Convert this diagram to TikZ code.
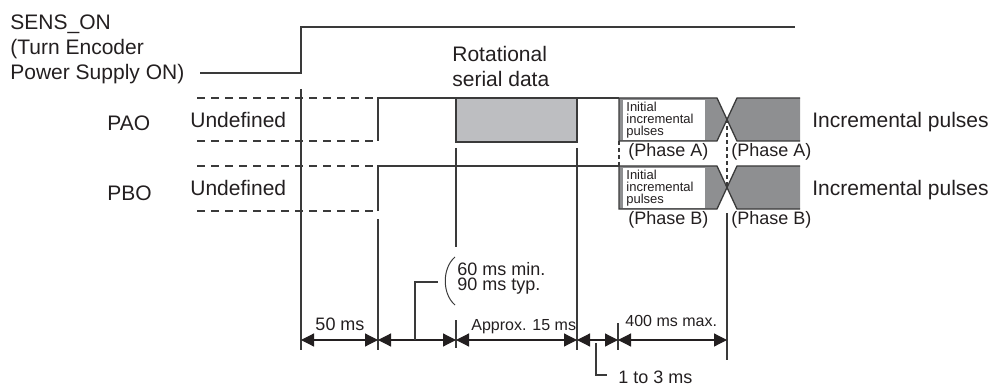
\documentclass[tikz,border=0pt]{standalone}
\usepackage{fontspec}
\setmainfont{Liberation Sans}
\usetikzlibrary{arrows.meta}
\definecolor{inkline}{HTML}{3A3A3A}
\definecolor{inktext}{HTML}{231F20}
\definecolor{serialgrey}{HTML}{BDBEC1}
\definecolor{pulsegrey}{HTML}{8E8F91}
\tikzset{
  tc/.style={inner sep=0pt, text=inktext, align=left},
  tc big/.style={tc, font=\fontsize{10.5}{12.5}\selectfont},
  tc mid/.style={tc, font=\fontsize{9}{7.5}\selectfont},
  tc small/.style={tc, font=\fontsize{8}{9}\selectfont},
  tc tiny/.style={tc, font=\fontsize{6.5}{6.25}\selectfont},
  tc line/.style={draw=inkline, line width=0.65pt},
  tc undef/.style={tc line, dash pattern=on 4pt off 3pt},
  tc edge/.style={tc line, line width=0.55pt, dash pattern=on 2pt off 1.5pt},
  tc dim/.style={{Triangle[length=6.5pt,width=6.5pt]}-{Triangle[length=6.5pt,width=6.5pt]},
                 draw=inktext, fill=inktext, line width=0.6pt},
}

\begin{document}
\begin{tikzpicture}[x=0.5pt, y=-0.5pt,
  pulse/.style={tc line, fill=pulsegrey},
  lbl/.style={tc big, anchor=base west}]
  \useasboundingbox (0,0) rectangle (991,385);
  % time marks on the dimension line
  \foreach \n/\x in {t0/301, t1/378, t2/456, t3/577, t4/618, t5/727} \coordinate (\n) at (\x,340);
  % SENS_ON (multi-line nodes sit on their last baseline)
  \node[lbl] (sens) at (10,80) {SENS\_ON\\(Turn Encoder\\Power Supply ON)};
  \draw[tc line] (200,73) -- (301,73) -- (301,27) -- (795,27);
  % PAO and PBO: undefined, then high
  \node[lbl] (pao) at (107,131) {PAO};
  \node[lbl] (pbo) at (107,200) {PBO};
  \foreach \hi/\lo/\b/\n in {98/141/128/A, 166/211/195/B} {
    \node[lbl] (und\n) at (190,\b) {Undefined};
    \draw[tc undef] (197,\hi) -- (378,\hi) (197,\lo) -- (378,\lo);
    \draw[tc line] (378,\lo) -- (378,\hi) -- (619,\hi);
  }
  % rotational serial data
  \draw[tc line, fill=serialgrey] (456,98) rectangle (577,142);
  \node[lbl] (rot) at (452,87) {Rotational\\serial data};
  % incremental pulses, phase A and B
  \foreach \hi/\lo/\c/\b/\n in {98/141/119.5/128/A, 166/209/187.5/195/B} {
    \filldraw[pulse] (619,\hi) -- (717,\hi) -- (727,\c) -- (717,\lo) -- (619,\lo) -- cycle;
    \fill[pulsegrey] (800,\hi) -- (737,\hi) -- (727,\c) -- (737,\lo) -- (800,\lo) -- cycle;
    \draw[tc line] (800,\hi) -- (737,\hi) -- (727,\c) -- (737,\lo) -- (800,\lo);
    \fill[white] (623,{\hi+2}) rectangle (705,{\lo-1});
    \node[tc tiny, anchor=base west] (init\n) at (626,{\hi+38}) {Initial\\incremental\\pulses};
    \node[tc mid, anchor=base west] (ph\n1) at (628,{\lo+15}) {(Phase \n)};
    \node[tc mid, anchor=base west] (ph\n2) at (731,{\lo+15}) {(Phase \n)};
    \node[lbl] (inc\n) at (812,\b) {Incremental pulses};
  }
  \draw[tc edge] (619,141) -- (619,166);
  \draw[tc edge] (727,119.5) -- (727,187.5);
  % time marks
  \foreach \x/\a/\b in {301/89/350, 378/219/350, 456/148/247, 456/320/348, 577/148/350, 618/323/350, 727/213/360}
    \draw[tc line] (\x,\a) -- (\x,\b);
  % dimensions
  \draw[tc dim] (t0) -- (t1);
  \draw[tc dim] (t1) -- (t2);
  \draw[tc dim] (t2) -- (t3);
  \draw[tc dim] (t3) -- (t4);
  \draw[tc dim] (t4) -- (t5);
  \node[tc mid, anchor=base] (d50) at (340,330) {50 ms};
  \node[tc small, anchor=base west] (d15) at (471,330) {Approx. 15 ms};
  \node[tc small, anchor=base west] (d400) at (625,326) {400 ms max.};
  \node[tc mid, anchor=base west] (dtyp) at (457,290) {60 ms min.\\90 ms typ.};
  \node[tc mid, anchor=base west] (d13) at (618,383) {1 to 3 ms};
  \draw[tc line] (415,340) |- (438,282);
  \draw[tc line, line width=0.5pt] (455,257) .. controls (442,268) and (442,294) .. (455,305);
  \draw[tc line] (596,343) |- (607,375);
\end{tikzpicture}
\end{document}
